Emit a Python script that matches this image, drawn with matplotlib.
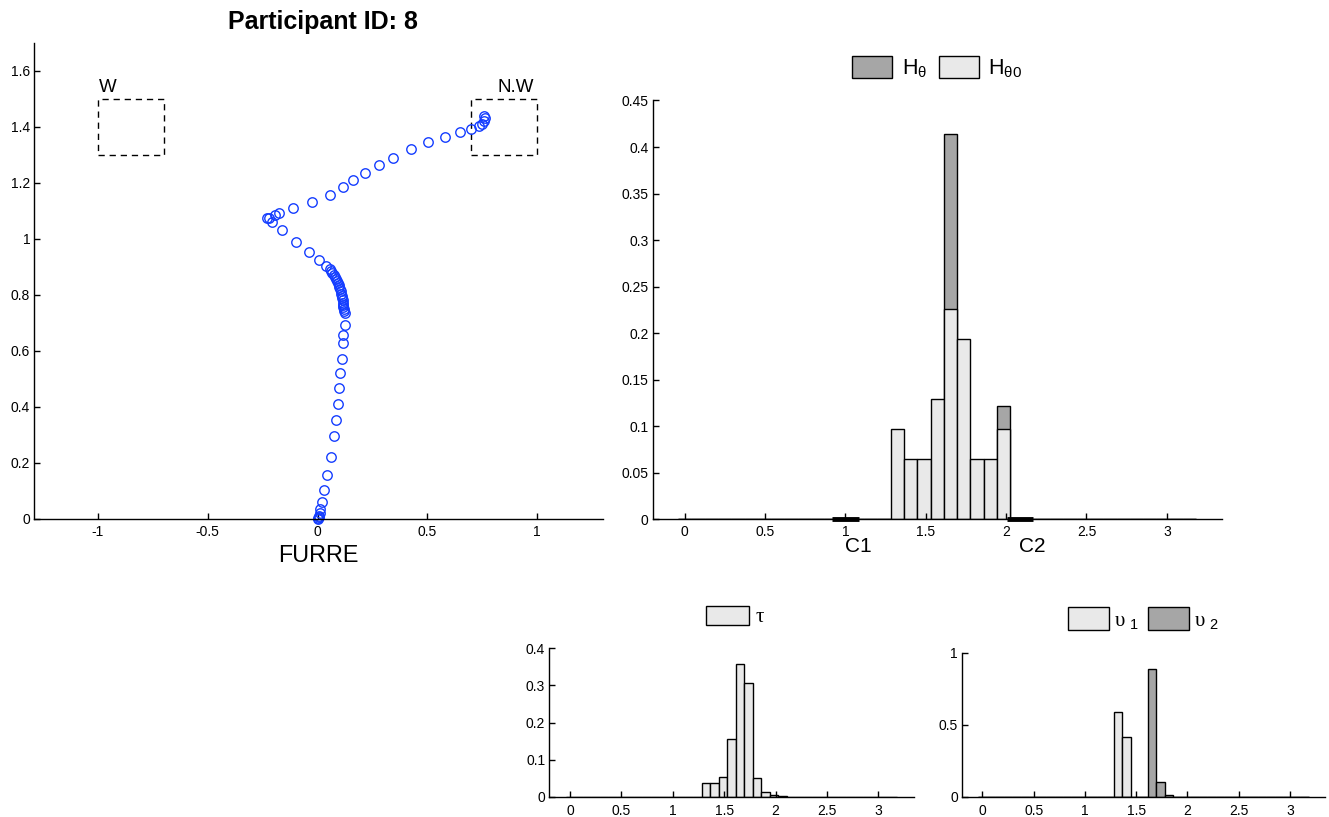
import numpy as np
import matplotlib
matplotlib.use("Agg")
import matplotlib.pyplot as plt
from matplotlib.patches import Rectangle, Patch

plt.rcParams['font.family'] = ['Liberation Sans', 'DejaVu Sans']
plt.rcParams['mathtext.fontset'] = 'custom'
plt.rcParams['mathtext.rm'] = 'Liberation Serif'
plt.rcParams['mathtext.sf'] = 'Liberation Sans'
plt.rcParams['mathtext.it'] = 'Liberation Serif:italic'

# ---------------- data ----------------
traj_x = [0.001, 0.003, 0.005, 0.006, 0.009, 0.012, 0.020, 0.030, 0.044, 0.059,
          0.076, 0.085, 0.092, 0.097, 0.103, 0.112, 0.115, 0.118, 0.123,
          0.125, 0.122, 0.120, 0.118, 0.117, 0.116, 0.114, 0.112, 0.110, 0.108,
          0.105, 0.102, 0.099, 0.096, 0.092, 0.088, 0.084, 0.079, 0.074, 0.068,
          0.062, 0.055, 0.038, 0.006, -0.040, -0.097, -0.160, -0.206, -0.230,
          -0.221, -0.195, -0.176, -0.112, -0.026, 0.056, 0.117, 0.160, 0.215,
          0.279, 0.344, 0.427, 0.503, 0.580, 0.647, 0.701, 0.736, 0.751, 0.759,
          0.759, 0.762]
traj_y = [0.000, 0.003, 0.012, 0.008, 0.020, 0.035, 0.060, 0.105, 0.158, 0.222,
          0.296, 0.355, 0.411, 0.467, 0.520, 0.571, 0.627, 0.657, 0.691,
          0.734, 0.741, 0.748, 0.756, 0.764, 0.772, 0.780, 0.788, 0.796, 0.804,
          0.812, 0.820, 0.828, 0.835, 0.843, 0.850, 0.857, 0.864, 0.871, 0.878,
          0.885, 0.893, 0.902, 0.923, 0.952, 0.990, 1.031, 1.060, 1.075,
          1.075, 1.084, 1.092, 1.109, 1.131, 1.155, 1.184, 1.209, 1.236,
          1.264, 1.290, 1.320, 1.344, 1.365, 1.382, 1.391, 1.401, 1.409, 1.421,
          1.439, 1.430]

targets = ['W', 'N.W']
target_x = [-1.0, 0.7]
target_y = [1.3, 1.3]
target_w = 0.3
target_h = 0.2

N_BINS = 39  # bins centred at k*pi/38, k = 0..38
h_theta0 = {16: 3/31, 17: 2/31, 18: 2/31, 19: 4/31, 20: 7/31, 21: 6/31,
            22: 2/31, 23: 2/31, 24: 3/31}
h_theta = {20: 0.4135, 24: 0.1214}
choices = ['C1', 'C2']
choice_x = [1.0, 2.087]
tau = {16: 0.0377, 17: 0.0377, 18: 0.054, 19: 0.155, 20: 0.357, 21: 0.306,
       22: 0.0496, 23: 0.0135, 24: 0.0045, 25: 0.001}
ups1 = {16: 0.590, 17: 0.412}
ups2 = {20: 0.885, 21: 0.104, 22: 0.0125}

# ---------------- styling ----------------
LIGHT = '#e9e9e9'
DARK = '#a6a6a6'
W, H = 1329, 817
fig = plt.figure(figsize=(W/100, H/100), dpi=100)

def fx(px):
    return px / W

def fy(py):
    return 1 - py / H

def make_ax(x0, x1, y0, y1, pad=3):
    ax = fig.add_axes([fx(x0), fy(y1), fx(x1) - fx(x0), fy(y0) - fy(y1)])
    for s in ['top', 'right']:
        ax.spines[s].set_visible(False)
    for s in ['left', 'bottom']:
        ax.spines[s].set_linewidth(1.0)
    ax.tick_params(direction='in', length=4, width=1.0, labelsize=10, pad=3)
    ax.tick_params(axis='x', pad=pad)
    return ax

centers = np.arange(N_BINS) * np.pi / 38
bw = np.pi / 38

def full(d):
    return np.array([d.get(k, 0.0) for k in range(N_BINS)])

# ---------------- left: trajectory ----------------
ax0 = make_ax(34.3, 603, 42.7, 519, pad=4)
ax0.plot(traj_x, traj_y, 'o', ms=6.8, mfc='none', mec=(0.08, 0.24, 1.0), mew=1.0,
         clip_on=False)
for name, tx, ty in zip(targets, target_x, target_y):
    ax0.add_patch(Rectangle((tx, ty), target_w, target_h, fill=False, ec='black',
                            lw=1.0, ls=(0, (4.5, 3.5))))
ax0.text(target_x[0] + 0.005, target_y[0] + target_h + 0.025, targets[0], fontsize=13.5,
         ha='left', va='baseline')
ax0.text(target_x[1] + 0.12, target_y[1] + target_h + 0.025, targets[1], fontsize=13.5,
         ha='left', va='baseline')
ax0.set_xlim(-1.29, 1.3)
ax0.set_ylim(0, 1.7)
ax0.set_xticks([-1, -0.5, 0, 0.5, 1])
ax0.set_xticklabels(['-1', '-0.5', '0', '0.5', '1'])
ax0.set_yticks(np.arange(0, 1.61, 0.2))
ax0.set_yticklabels(['0', '0.2', '0.4', '0.6', '0.8', '1', '1.2', '1.4', '1.6'])
ax0.text(0.5, -0.0756, 'FURRE', transform=ax0.transAxes, fontsize=16.8,
         ha='center', va='center')
fig.text(fx(323), fy(22), 'Participant ID: 8', fontsize=18, fontweight='bold',
         ha='center', va='center')

# ---------------- top right: H histograms ----------------
ax1 = make_ax(652.7, 1221.7, 100.5, 519.3, pad=4)
ax1.bar(centers, full(h_theta), width=bw, color=DARK, edgecolor='black', lw=1.0)
ax1.bar(centers, full(h_theta0), width=bw, color=LIGHT, edgecolor='black', lw=1.0)
for name, cx in zip(choices, choice_x):
    ax1.plot([cx - bw, cx + bw], [0, 0], color='black', lw=3.5,
             solid_capstyle='butt', clip_on=False, zorder=5)
    ax1.text(cx - 0.005, -0.064, name, transform=ax1.get_xaxis_transform(), fontsize=15,
             ha='left', va='center')
ax1.set_xlim(-0.2, np.pi + 0.2)
ax1.set_ylim(0, 0.45)
ax1.set_xticks([0, 0.5, 1, 1.5, 2, 2.5, 3])
ax1.set_xticklabels(['0', '0.5', '1', '1.5', '2', '2.5', '3'])
ax1.set_yticks(np.arange(0, 0.451, 0.05))
ax1.set_yticklabels(['0', '0.05', '0.1', '0.15', '0.2', '0.25', '0.3', '0.35',
                     '0.4', '0.45'])
ax1.legend(handles=[Patch(fc=DARK, ec='black', lw=1.0),
                    Patch(fc=LIGHT, ec='black', lw=1.0)],
           labels=[r'$\mathsf{H}_{\mathsf{\theta}}$', r'$\mathsf{H}_{\mathsf{\theta0}}$'],
           ncol=2, frameon=False,
           fontsize=15.5, handlelength=1.85, handleheight=1.25, handletextpad=0.45,
           columnspacing=0.55, loc='center', bbox_to_anchor=(0.5, 1.079),
           borderpad=0, borderaxespad=0)

# ---------------- bottom left: tau ----------------
ax2 = make_ax(549.4, 913.5, 648.3, 796.7, pad=5)
ax2.bar(centers, full(tau), width=bw, color=LIGHT, edgecolor='black', lw=1.0)
ax2.set_xlim(-0.2, np.pi + 0.2)
ax2.set_ylim(0, 0.4)
ax2.set_xticks([0, 0.5, 1, 1.5, 2, 2.5, 3])
ax2.set_xticklabels(['0', '0.5', '1', '1.5', '2', '2.5', '3'])
ax2.set_yticks([0, 0.1, 0.2, 0.3, 0.4])
ax2.set_yticklabels(['0', '0.1', '0.2', '0.3', '0.4'])
ax2.legend(handles=[Patch(fc=LIGHT, ec='black', lw=1.0)], labels=[r'$\mathrm{\tau}$'],
           frameon=False, fontsize=15, handlelength=2.1, handleheight=1.0,
           handletextpad=0.25, loc='center', bbox_to_anchor=(0.51, 1.216),
           borderpad=0, borderaxespad=0)

# ---------------- bottom right: upsilon ----------------
ax3 = make_ax(962, 1325, 652.7, 796.7, pad=5)
ax3.bar(centers, full(ups1), width=bw, color=LIGHT, edgecolor='black', lw=1.0)
ax3.bar(centers, full(ups2), width=bw, color=DARK, edgecolor='black', lw=1.0)
ax3.set_xlim(-0.2, np.pi + 0.2)
ax3.set_ylim(0, 1)
ax3.set_xticks([0, 0.5, 1, 1.5, 2, 2.5, 3])
ax3.set_xticklabels(['0', '0.5', '1', '1.5', '2', '2.5', '3'])
ax3.set_yticks([0, 0.5, 1])
ax3.set_yticklabels(['0', '0.5', '1'])
ax3.legend(handles=[Patch(fc=LIGHT, ec='black', lw=1.0),
                    Patch(fc=DARK, ec='black', lw=1.0)],
           labels=[r'$\mathrm{\upsilon}\ _{\mathsf{1}}$', r'$\mathrm{\upsilon}\ _{\mathsf{2}}$'],
           ncol=2, frameon=False,
           fontsize=15, handlelength=1.95, handleheight=1.25, handletextpad=0.25,
           columnspacing=0.45, loc='center', bbox_to_anchor=(0.5, 1.234),
           borderpad=0, borderaxespad=0)

fig.savefig('out.png', dpi=100)
